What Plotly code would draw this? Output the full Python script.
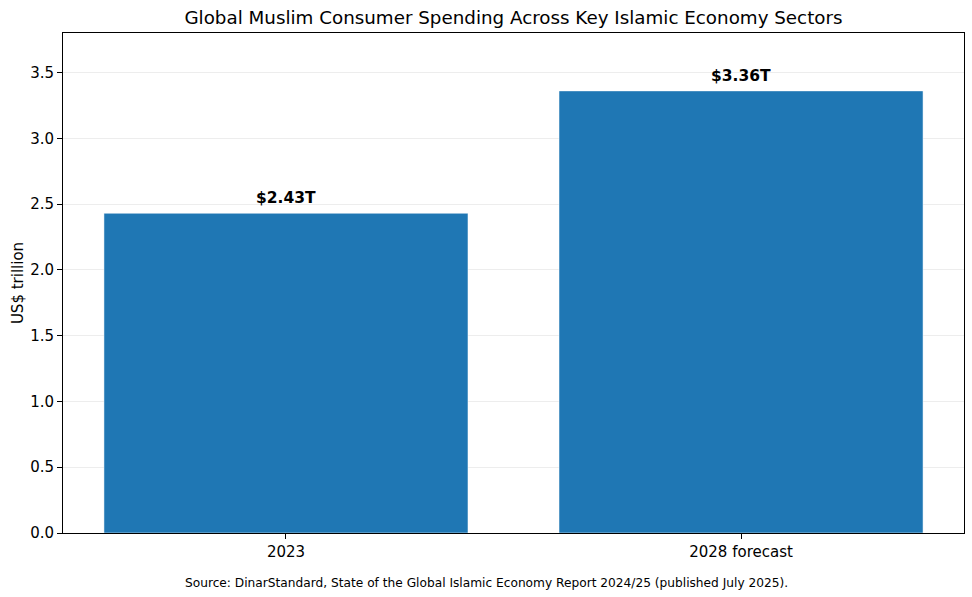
#!/usr/bin/env python3
"""Dépenses des consommateurs musulmans - graphique en barres"""

import plotly.graph_objects as go

# Données
years = ["2023", "2028 forecast"]
spending = [2.43, 3.36]
labels = ["$2.43T", "$3.36T"]

TITLE = "Global Muslim Consumer Spending Across Key Islamic Economy Sectors"
SOURCE = "Source: DinarStandard, State of the Global Islamic Economy Report 2024/25 (published July 2025)."
FONT = "DejaVu Sans"

fig = go.Figure()
fig.add_trace(go.Bar(
    x=years,
    y=spending,
    width=0.8,
    marker=dict(color="#1f77b4", line=dict(color="rgba(255,255,255,0.5)", width=1)),
    hoverinfo="x+y",
))

# Étiquettes au-dessus des barres (x = index de catégorie)
for i, (y, txt) in enumerate(zip(spending, labels)):
    fig.add_annotation(
        x=i, y=y, text=f"<b>{txt}</b>", showarrow=False,
        yanchor="bottom", yshift=4,
        font=dict(family=FONT, size=15.5, color="black"),
    )

# Source centrée sur la figure entière (pas sur la zone de tracé)
fig.add_annotation(
    x=0.47, y=-0.1, xref="paper", yref="paper", xanchor="center", yanchor="middle",
    text=SOURCE, showarrow=False, font=dict(family=FONT, size=12.2, color="black"),
)

fig.update_layout(
    width=972, height=597,
    margin=dict(l=63, r=8, t=33, b=64),
    paper_bgcolor="white",
    plot_bgcolor="white",
    showlegend=False,
    font=dict(family=FONT, size=15, color="black"),
    title=dict(text=TITLE, x=0.5, xref="paper", xanchor="center", y=0.97, yanchor="middle",
               font=dict(family=FONT, size=18.3, color="black")),
)

fig.update_xaxes(
    type="category",
    range=[-0.49, 1.49],
    showline=True, linecolor="black", linewidth=1, mirror=True,
    ticks="outside", ticklen=5, tickcolor="black",
    showgrid=False,
    tickfont=dict(family=FONT, size=15),
)
fig.update_yaxes(
    range=[0, 3.8],
    dtick=0.5, tickformat=".1f",
    showline=True, linecolor="black", linewidth=1, mirror=True,
    ticks="outside", ticklen=5, tickcolor="black",
    showgrid=True, gridcolor="rgba(0,0,0,0.07)", gridwidth=1,
    zeroline=False,
    layer="above traces",
    automargin=False,
    title=dict(text="US$ trillion", font=dict(family=FONT, size=15), standoff=2),
    tickfont=dict(family=FONT, size=15),
)

fig.write_html("out.html", config={"displayModeBar": False},
               post_script="document.body.style.margin='0';")
